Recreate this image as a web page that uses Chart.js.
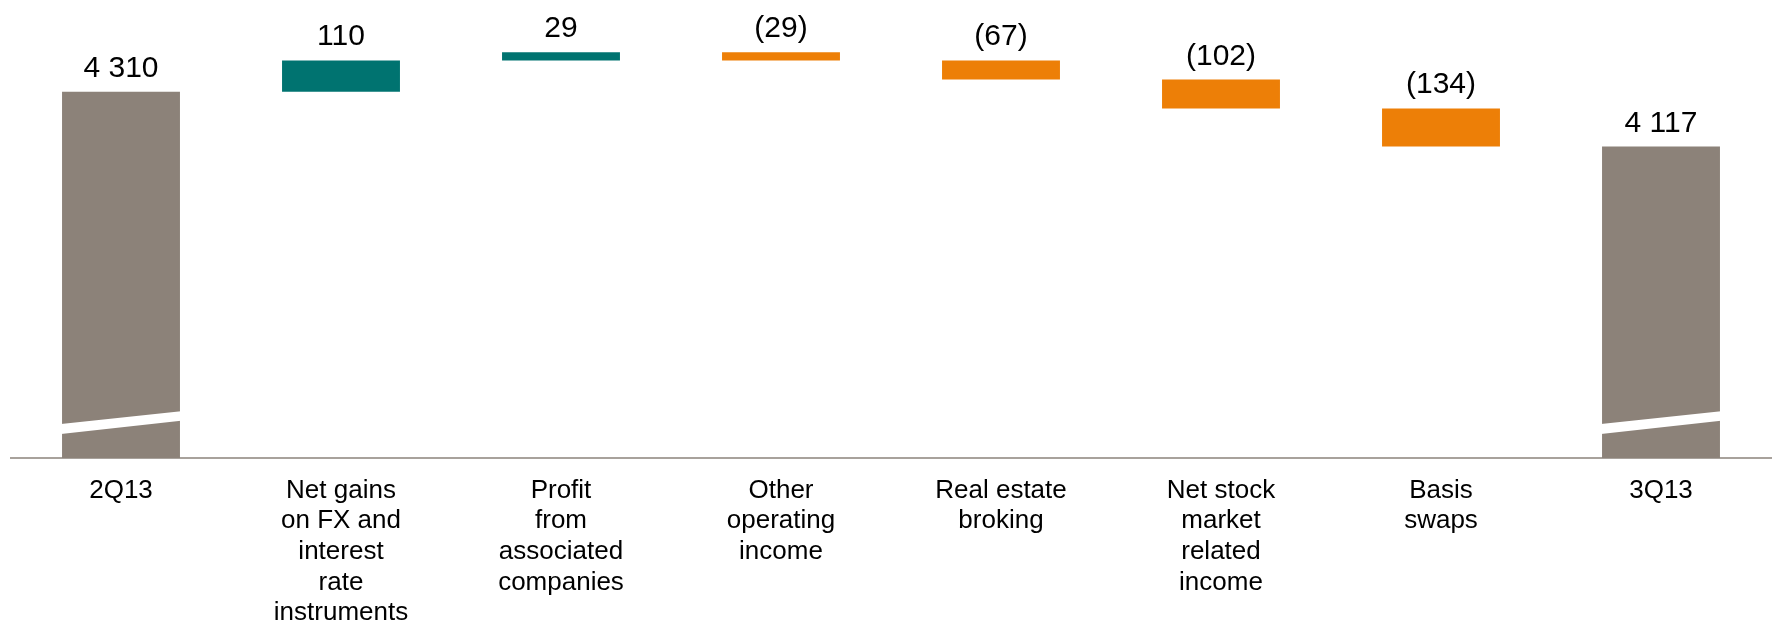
<!DOCTYPE html>
<html>
<head>
<meta charset="utf-8">
<script src="https://cdn.jsdelivr.net/npm/chart.js@4.4.1/dist/chart.umd.min.js"></script>
<style>
  html, body { margin: 0; padding: 0; background: #ffffff; }
  #wrap { position: relative; width: 1775px; height: 625px; }
</style>
</head>
<body>
<div id="wrap"><canvas id="chart"></canvas></div>
<script>
// Income bridge, 2Q13 -> 3Q13
const categories = [
  ['2Q13'],
  ['Net gains', 'on FX and', 'interest', 'rate', 'instruments'],
  ['Profit', 'from', 'associated', 'companies'],
  ['Other', 'operating', 'income'],
  ['Real estate', 'broking'],
  ['Net stock', 'market', 'related', 'income'],
  ['Basis', 'swaps'],
  ['3Q13']
];
const openingTotal = [4310];
const changes = [110, 29, -29, -67, -102, -134];
const closingTotal = [4117];
const axisRange = [3020, 4633];

const GREY = '#8c8279';
const TEAL = '#007370';
const ORANGE = '#ed7f07';

// floating [from, to] ranges for every column of the bridge
const ranges = [];
const barValues = [];
const barColors = [];
let running = openingTotal[0];
ranges.push([axisRange[0], running]);
barValues.push(openingTotal[0]);
barColors.push(GREY);
changes.forEach(v => {
  ranges.push([running, running + v]);
  barValues.push(v);
  barColors.push(v >= 0 ? TEAL : ORANGE);
  running += v;
});
ranges.push([axisRange[0], closingTotal[0]]);
barValues.push(closingTotal[0]);
barColors.push(GREY);
const totalIdx = [0, ranges.length - 1];

function formatValue(v, isTotal) {
  const s = Math.abs(v).toString().replace(/\B(?=(\d{3})+(?!\d))/g, ' ');
  if (isTotal) return s;
  return v < 0 ? '(' + s + ')' : s;
}

const bridgePlugin = {
  id: 'bridgeDecor',
  afterDatasetsDraw(chart) {
    const ctx = chart.ctx;
    const meta = chart.getDatasetMeta(0);
    ctx.save();
    // white slanted cut across the total columns (axis does not start at zero)
    totalIdx.forEach(i => {
      const el = meta.data[i];
      const half = el.width / 2;
      const b = el.base;
      ctx.fillStyle = '#ffffff';
      ctx.beginPath();
      ctx.moveTo(el.x - half - 1, b - 34);
      ctx.lineTo(el.x + half + 1, b - 46.7);
      ctx.lineTo(el.x + half + 1, b - 37.3);
      ctx.lineTo(el.x - half - 1, b - 24);
      ctx.closePath();
      ctx.fill();
    });
    // value labels above each column
    ctx.font = '30px "Liberation Sans", Arial, sans-serif';
    ctx.fillStyle = '#000000';
    ctx.textAlign = 'center';
    ctx.textBaseline = 'alphabetic';
    meta.data.forEach((el, i) => {
      const top = Math.min(el.y, el.base);
      const isTotal = totalIdx.includes(i);
      ctx.fillText(formatValue(barValues[i], isTotal), el.x, top - 15);
    });
    ctx.restore();
  }
};

new Chart(document.getElementById('chart'), {
  type: 'bar',
  data: {
    labels: categories,
    datasets: [{
      data: ranges,
      backgroundColor: barColors,
      borderWidth: 0,
      borderSkipped: false,
      categoryPercentage: 1,
      barPercentage: 0.536
    }]
  },
  options: {
    responsive: true,
    maintainAspectRatio: false,
    animation: false,
    layout: { padding: { left: 11, right: 4, top: 0, bottom: 0 } },
    plugins: {
      legend: { display: false },
      tooltip: { enabled: false }
    },
    scales: {
      x: {
        grid: { display: false, drawTicks: false },
        border: { display: true, color: '#a8a29c', width: 2 },
        ticks: {
          color: '#000000',
          font: { family: '"Liberation Sans", Arial, sans-serif', size: 26, lineHeight: 1.18 },
          padding: 17,
          maxRotation: 0,
          autoSkip: false
        },
        afterFit(scale) { scale.height = 167; }
      },
      y: {
        display: false,
        min: axisRange[0],
        max: axisRange[1]
      }
    }
  },
  plugins: [bridgePlugin]
});
</script>
</body>
</html>
